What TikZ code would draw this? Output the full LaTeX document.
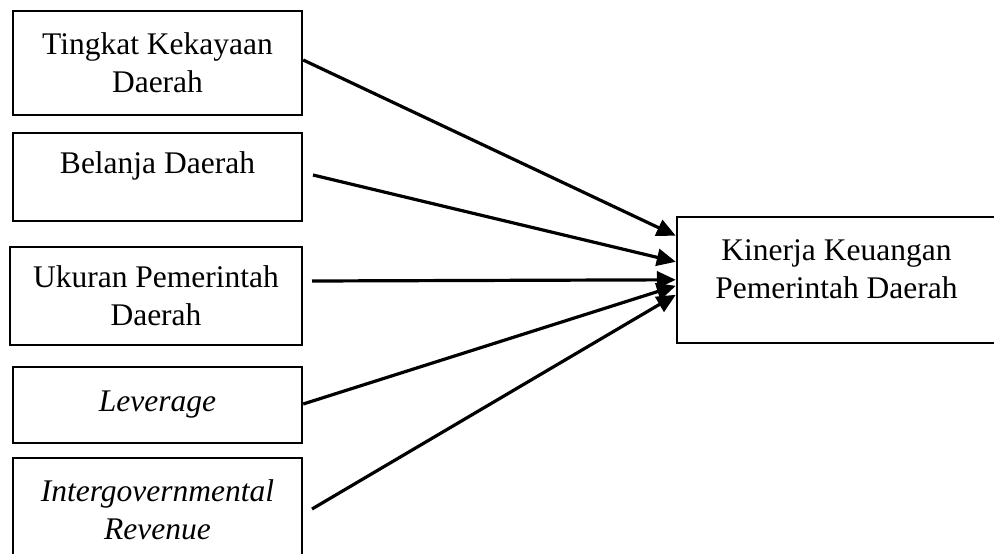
\documentclass[tikz,border=0pt]{standalone}
\usepackage{fontspec}
\setmainfont{Liberation Serif}
\usepackage{tikz}
\usetikzlibrary{positioning,calc,arrows.meta}
\newcommand{\bnode}[4]{\node [box, #3] (#1) at (#2) {#4}}
\tikzset{box/.style={draw, line width=2.4pt, align=center, inner sep=0pt, font=\fontsize{31.5}{38}\selectfont},
  arr/.style={-{Triangle[length=19pt,width=17pt]}, line width=3.2pt}}

\begin{document}
\begin{tikzpicture}[x=1pt,y=-1pt]
\useasboundingbox (0,0) rectangle (994,554);

\bnode{TKD}{157.5,63}{minimum width=289pt, minimum height=104pt}{Tingkat Kekayaan\\Daerah};
\bnode{BD}{157.5,177}{minimum width=289pt, minimum height=88pt}{Belanja Daerah\\[-10pt]\mbox{}};
\bnode{UPD}{156,296}{minimum width=292pt, minimum height=98pt}{Ukuran Pemerintah\\Daerah};
\bnode{LEV}{157.5,405}{minimum width=289pt, minimum height=76pt}{\textit{Leverage}};
\bnode{IGR}{157.5,510}{minimum width=289pt, minimum height=104pt}{\textit{Intergovernmental}\\\textit{Revenue}};
\bnode{KKPD}{836.5,280}{minimum width=319pt, minimum height=126pt}{Kinerja Keuangan\\Pemerintah Daerah\\[-16pt]\mbox{}};

% free ends in front of the boxes
\coordinate (BDs) at (313,175);
\coordinate (UPDs) at (312,281);
\coordinate (IGRs) at (312,509);

\draw[arr] ([yshift=3pt]TKD.east) -- ([yshift=-20pt]KKPD.north west);
\draw[arr] (BDs) -- ([yshift=-46pt]KKPD.north west);
\draw[arr] (UPDs) -- ([yshift=-64pt]KKPD.north west);
\draw[arr] ([yshift=1pt]LEV.east) -- ([yshift=-70pt]KKPD.north west);
\draw[arr] (IGRs) -- ([yshift=-79pt]KKPD.north west);

\end{tikzpicture}
\end{document}
